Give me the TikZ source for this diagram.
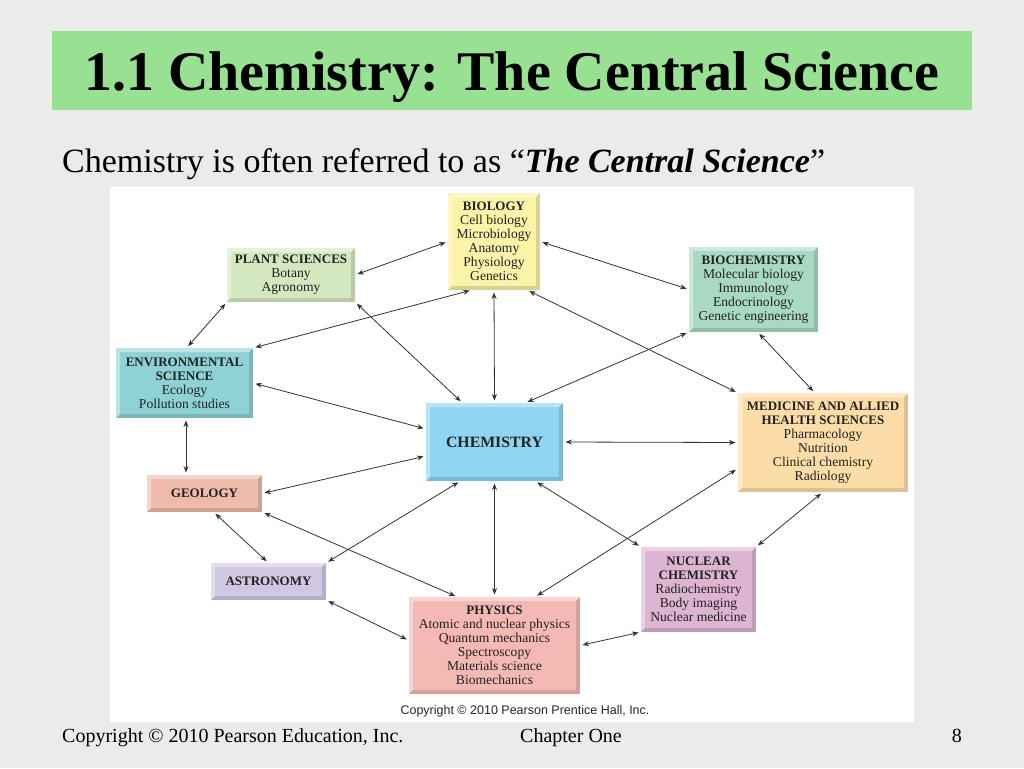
\documentclass[tikz,border=0pt]{standalone}
\usepackage{fontspec}
\setmainfont{Liberation Serif}
\newfontfamily\arialf{Liberation Sans}
\usetikzlibrary{arrows.meta}
\definecolor{slidebg}{HTML}{EBEBEA}
\definecolor{titlegreen}{HTML}{98E193}
\definecolor{cbio}{HTML}{FAF3A8}
\definecolor{cplant}{HTML}{D4E8C0}
\definecolor{cbiochem}{HTML}{A8DAC3}
\definecolor{cenv}{HTML}{8FD2D5}
\definecolor{cchem}{HTML}{8ED4F3}
\definecolor{cmed}{HTML}{FCDDA8}
\definecolor{cgeo}{HTML}{EEBBAA}
\definecolor{castro}{HTML}{D0C8E3}
\definecolor{cphys}{HTML}{F4B9B4}
\definecolor{cnuc}{HTML}{DDB5D2}
\definecolor{boxtext}{HTML}{222222}
\definecolor{arrowcol}{HTML}{333333}
\tikzset{
  box/.style={rectangle, inner sep=0pt, outer sep=0pt, align=center,
    text=boxtext, font=\fontsize{13.6}{14}\selectfont},
  link/.style={draw=arrowcol, line width=0.8pt,
    {Stealth[length=6.5pt,width=5pt]}-{Stealth[length=6.5pt,width=5pt]},
    shorten >=2.5pt, shorten <=2.5pt},
}
\newcommand{\hd}[1]{{\fontsize{13}{14}\selectfont\bfseries #1}}
\begin{document}
\begin{tikzpicture}[x={(1pt,0)}, y={(0,-1pt)}]
\useasboundingbox (0,0) rectangle (1024,768);
\fill[slidebg] (0,0) rectangle (1024,768);
% title bar
\node[rectangle, fill=titlegreen, minimum width=920pt, minimum height=79pt, inner sep=0pt] (titlebar) at (512,70.5) {};
\node[anchor=base, text=black, font=\fontsize{56}{60}\selectfont\bfseries] (title) at (512,90) {1.1 Chemistry: The Central Science};
% subtitle
\node[anchor=base west, inner sep=0pt, text=black, font=\fontsize{34}{38}\selectfont] (subtitle) at (62,172) {Chemistry is often referred to as “\textbf{\textit{The Central Science}}”};
% white figure area
\fill[white] (110,187) rectangle (914,722);
% nodes
\node[box, fill=cbio, minimum width=92pt, minimum height=97pt] (bio) at (494,241.5)
  {\hd{BIOLOGY}\\Cell biology\\Microbiology\\Anatomy\\Physiology\\Genetics};
\node[box, fill=cplant, minimum width=128pt, minimum height=54pt] (plant) at (291,275)
  {\hd{PLANT SCIENCES}\\Botany\\Agronomy};
\node[box, fill=cbiochem, minimum width=129pt, minimum height=85pt] (biochem) at (753.5,289.5)
  {\hd{BIOCHEMISTRY}\\Molecular biology\\Immunology\\Endocrinology\\Genetic engineering};
\node[box, fill=cenv, minimum width=137pt, minimum height=70pt] (env) at (184.5,383)
  {\hd{ENVIRONMENTAL}\\\hd{SCIENCE}\\Ecology\\Pollution studies};
\node[box, fill=cchem, minimum width=137pt, minimum height=78pt, font=\fontsize{15.8}{17}\selectfont\bfseries] (chem) at (494.5,442)
  {CHEMISTRY};
\node[box, fill=cmed, minimum width=170pt, minimum height=99pt] (med) at (823,442.5)
  {\hd{MEDICINE AND ALLIED}\\\hd{HEALTH SCIENCES}\\Pharmacology\\Nutrition\\Clinical chemistry\\Radiology};
\node[box, fill=cgeo, minimum width=115pt, minimum height=37pt] (geo) at (204.5,493.5)
  {\hd{GEOLOGY}};
\node[box, fill=castro, minimum width=115pt, minimum height=37pt] (astro) at (268.5,581.5)
  {\hd{ASTRONOMY}};
\node[box, fill=cphys, minimum width=171pt, minimum height=97pt] (phys) at (494.5,645.5)
  {\hd{PHYSICS}\\Atomic and nuclear physics\\Quantum mechanics\\Spectroscopy\\Materials science\\Biomechanics};
\node[box, fill=cnuc, minimum width=115pt, minimum height=85pt] (nuc) at (698.5,589.5)
  {\hd{NUCLEAR}\\\hd{CHEMISTRY}\\Radiochemistry\\Body imaging\\Nuclear medicine};
% bevels
\foreach \n in {bio,plant,biochem,env,chem,med,geo,astro,phys,nuc}{
  \fill[white,opacity=.4] (\n.south west) -- (\n.north west) -- (\n.north east)
    -- ([xshift=-4pt,yshift=-4pt]\n.north east) -- ([xshift=4pt,yshift=-4pt]\n.north west)
    -- ([xshift=4pt,yshift=4pt]\n.south west) -- cycle;
  \fill[black,opacity=.13] (\n.south west) -- (\n.south east) -- (\n.north east)
    -- ([xshift=-4pt,yshift=-4pt]\n.north east) -- ([xshift=-4pt,yshift=4pt]\n.south east)
    -- ([xshift=4pt,yshift=4pt]\n.south west) -- cycle;
}
% connectors
\draw[link] (plant.east) -- (bio.west);
\draw[link] ([xshift=-22pt]bio.south) -- (env.north east);
\draw[link] (plant.south west) -- ([xshift=2pt]env.north);
\draw[link] (plant.south east) -- ([xshift=-32pt]chem.north);
\draw[link] (bio.south) -- (chem.north);
\draw[link] (env.east) -- ([yshift=13pt]chem.west);
\draw[link] ([xshift=-13pt]bio.south east) -- (med.north west);
\draw[link] (bio.east) -- (biochem.west);
\draw[link] (biochem.south west) -- ([xshift=-38pt]chem.north east);
\draw[link] ([xshift=4pt]biochem.south) -- ([xshift=-8pt]med.north);
\draw[link] (chem.east) -- (med.west);
\draw[link] ([xshift=1.5pt]env.south) -- ([xshift=1.5pt]env.south |- geo.north);
\draw[link] (geo.east) -- ([yshift=-14pt]chem.west);
\draw[link] ([xshift=9pt]geo.south) -- (astro.north);
\draw[link] (geo.south east) -- ([xshift=-37pt]phys.north);
\draw[link] (astro.north east) -- ([xshift=-34pt]chem.south);
\draw[link] (astro.south east) -- ([yshift=5pt]phys.west);
\draw[link] (chem.south) -- (phys.north);
\draw[link] ([xshift=-28pt]chem.south east) -- (nuc.north west);
\draw[link] ([xshift=-45pt]phys.north east) -- ([yshift=-26pt]med.west);
\draw[link] (phys.east) -- (nuc.south west);
\draw[link] (nuc.north east) -- (med.south);
% figure copyright
\node[anchor=base, inner sep=0pt, font=\arialf\fontsize{12.5}{14}\selectfont, text=black!85] (figcopy) at (525,714) {Copyright © 2010 Pearson Prentice Hall, Inc.};
% footer
\node[anchor=base west, inner sep=0pt, font=\fontsize{20}{22}\selectfont] (footcopy) at (62,742) {Copyright © 2010 Pearson Education, Inc.};
\node[anchor=base, inner sep=0pt, font=\fontsize{20}{22}\selectfont] (chapter) at (571,742) {Chapter One};
\node[anchor=base east, inner sep=0pt, font=\fontsize{20}{22}\selectfont] (pagenum) at (962,742) {8};
\end{tikzpicture}
\end{document}
